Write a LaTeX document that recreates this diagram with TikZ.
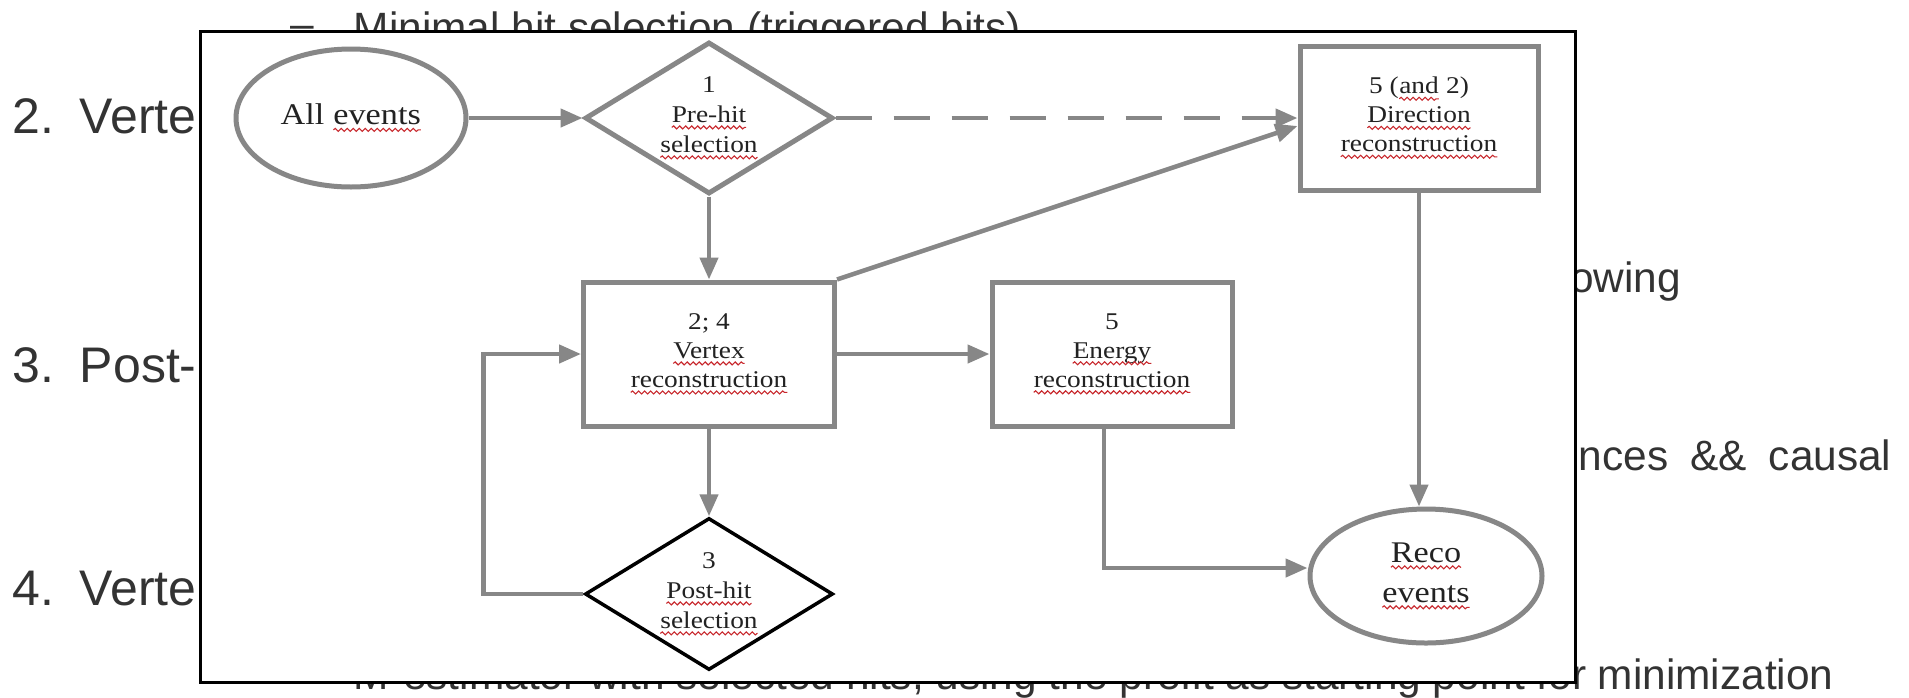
\documentclass[tikz,border=0pt]{standalone}
\usepackage{fontspec}
\setmainfont{Liberation Serif}
\newfontfamily\flowfont[FakeStretch=1.14]{Liberation Serif}
\newfontfamily\slidefont{Liberation Sans}
\usetikzlibrary{shapes.geometric,arrows.meta,decorations.pathmorphing}
\definecolor{flowgray}{HTML}{878787}
\definecolor{flowtext}{HTML}{222222}
\definecolor{slidetext}{HTML}{333333}
\definecolor{spellred}{HTML}{C8282D}
\newcommand{\spell}[1]{\tikz[baseline=(sp.base)]{\node[shape=rectangle,draw=none,fill=none,inner sep=0pt,outer sep=0pt,minimum width=0pt,minimum height=0pt] (sp) {#1};\draw[spellred,line width=1.1pt,decorate,decoration={snake,amplitude=1.5pt,segment length=6pt}] ([yshift=-5pt]sp.base west) -- ([yshift=-5pt]sp.base east);}}
\begin{document}
\begin{tikzpicture}[x=1pt,y=-1pt]
    \tikzstyle{slide}=[anchor=base west, inner sep=0pt, text=slidetext, font=\slidefont\fontsize{42.4}{50}\selectfont]
    \tikzstyle{slidebig}=[slide, font=\slidefont\fontsize{50}{60}\selectfont]
    \tikzstyle{box}=[rectangle, draw=flowgray, line width=5pt, minimum width=240pt, minimum height=144pt, align=center, text=flowtext, font=\flowfont\fontsize{24}{29}\selectfont]
    \tikzstyle{decision}=[diamond, aspect=1.6, draw=flowgray, line width=5pt, inner sep=0pt, minimum width=248pt, minimum height=152pt, align=center, text=flowtext, font=\flowfont\fontsize{24}{30}\selectfont]
    \tikzstyle{terminal}=[ellipse, draw=flowgray, line width=5pt, minimum width=230pt, minimum height=138pt, align=center, text=flowtext, font=\flowfont\fontsize{30}{40}\selectfont]
    \tikzstyle{flow}=[draw=flowgray, line width=4.5pt, -{Triangle[length=22pt,width=18pt]}]
    \useasboundingbox (0,0) rectangle (1909,697);
    \node[slidebig] (item2) at (12,133) {2.\hspace{26pt}Verte};
    \node[slidebig] (item3) at (12,382) {3.\hspace{26pt}Post-};
    \node[slidebig] (item4) at (12,605) {4.\hspace{26pt}Verte};
    \node[slide] (sub1) at (290,42) {\raisebox{4pt}{–}\hspace{40pt}Minimal hit selection (triggered bits)};
    \node[slide] (sub2) at (290,689) {\raisebox{4pt}{–}\hspace{40pt}M-estimator with selected hits, using the prefit as starting point for minimization};
    \node[slide] (frag1) at (1570,292) {owing};
    \node[slide] (frag2) at (1555,470) {ences\hspace{22pt}\&\&\hspace{22pt}causal};
    \draw[line width=3pt, fill=white] (200.5,31) rectangle (1575,682);
    \node[terminal] (allev) at (351,118) {All \spell{events}};
    \node[decision] (prehit) at (709,118) {1\\\spell{Pre-hit}\\\spell{selection}};
    \node[box, minimum width=238pt] (dirrec) at (1419,118) {5 (\spell{and} 2)\\\spell{Direction}\\\spell{reconstruction}};
    \node[box, minimum width=251pt] (vtxrec) at (709,354) {2; 4\\\spell{Vertex}\\\spell{reconstruction}};
    \node[box] (enerec) at (1112,354) {5\\\spell{Energy}\\\spell{reconstruction}};
    \node[decision, draw=black, line width=3.5pt] (posthit) at (709,594) {3\\\spell{Post-hit}\\\spell{selection}};
    \node[terminal, minimum width=232pt, minimum height=134pt] (reco) at (1426,576) {\spell{Reco}\\\spell{events}};
    \draw[flow] (allev) -- (prehit);
    \draw[flow, dash pattern=on 36pt off 22pt] (prehit) -- (dirrec);
    \draw[flow] (prehit) -- (vtxrec);
    \draw[flow] (vtxrec.north east) -- ([yshift=-8pt]dirrec.west);
    \draw[flow] (vtxrec) -- (enerec);
    \draw[flow] (vtxrec) -- (posthit);
    \draw[flow] (dirrec.south) -- (dirrec.south |- reco.north);
    \draw[flow] (posthit.west) -- ++(-100,0) |- (vtxrec.west);
    \draw[flow] ([xshift=-8pt]enerec.south) |- ([yshift=8pt]reco.west);
\end{tikzpicture}
\end{document}
